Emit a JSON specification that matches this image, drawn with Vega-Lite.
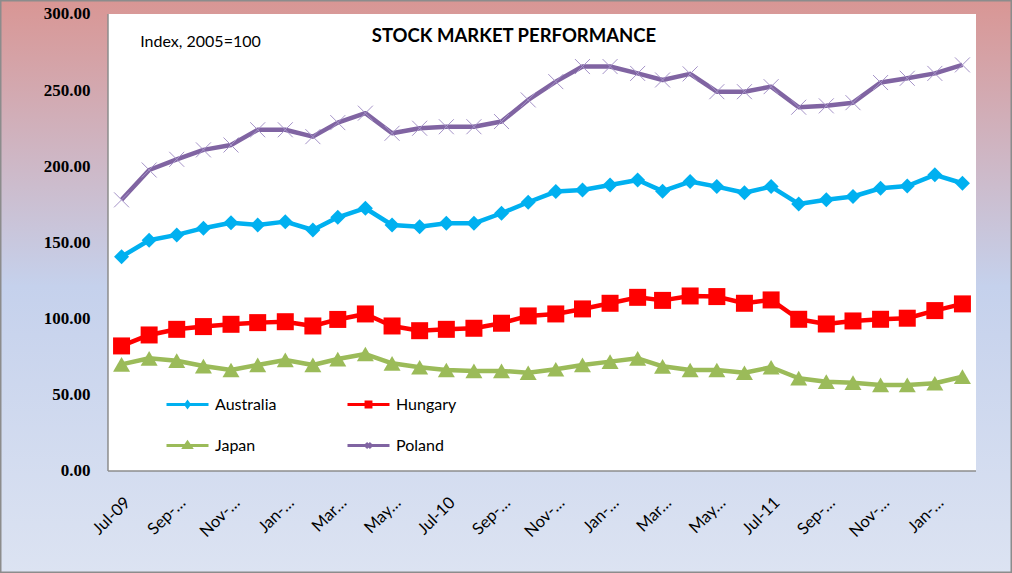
{
  "$schema": "https://vega.github.io/schema/vega-lite/v6.json",
  "width": 1012,
  "height": 573,
  "autosize": {"type": "none"},
  "padding": 0,
  "background": "#DCE3F2",
  "view": {
    "fill": {"gradient": "linear", "x1": 0, "y1": 0, "x2": 0, "y2": 1,
      "stops": [{"offset": 0, "color": "#D99694"}, {"offset": 0.5, "color": "#C5D1EC"}, {"offset": 1, "color": "#DCE3F2"}]},
    "stroke": "#8C8C8C",
    "strokeWidth": 3
  },
  "title": {"text": "STOCK MARKET PERFORMANCE", "offset": -45, "anchor": "middle", "dx": 8, "font": "Lato", "fontSize": 18.5, "fontWeight": "bold", "color": "#000000"},
  "data": {"values": [
    {"month": "2009-07-01", "Australia": 140.7, "Hungary": 82.1, "Japan": 70.0, "Poland": 178.0},
    {"month": "2009-08-01", "Australia": 151.5, "Hungary": 89.3, "Japan": 74.0, "Poland": 197.6},
    {"month": "2009-09-01", "Australia": 155.0, "Hungary": 93.0, "Japan": 72.4, "Poland": 204.6},
    {"month": "2009-10-01", "Australia": 159.4, "Hungary": 94.8, "Japan": 68.9, "Poland": 210.8},
    {"month": "2009-11-01", "Australia": 163.0, "Hungary": 96.3, "Japan": 66.3, "Poland": 214.0},
    {"month": "2009-12-01", "Australia": 161.5, "Hungary": 97.4, "Japan": 69.6, "Poland": 224.0},
    {"month": "2010-01-01", "Australia": 163.7, "Hungary": 98.0, "Japan": 72.9, "Poland": 224.0},
    {"month": "2010-02-01", "Australia": 158.2, "Hungary": 95.2, "Japan": 69.6, "Poland": 219.5},
    {"month": "2010-03-01", "Australia": 166.5, "Hungary": 99.5, "Japan": 73.5, "Poland": 228.7},
    {"month": "2010-04-01", "Australia": 172.5, "Hungary": 103.1, "Japan": 76.8, "Poland": 234.9},
    {"month": "2010-05-01", "Australia": 161.5, "Hungary": 95.2, "Japan": 70.7, "Poland": 221.7},
    {"month": "2010-06-01", "Australia": 160.4, "Hungary": 92.1, "Japan": 68.1, "Poland": 225.0},
    {"month": "2010-07-01", "Australia": 162.6, "Hungary": 93.0, "Japan": 66.3, "Poland": 226.0},
    {"month": "2010-08-01", "Australia": 162.6, "Hungary": 93.7, "Japan": 65.7, "Poland": 226.0},
    {"month": "2010-09-01", "Australia": 169.2, "Hungary": 97.0, "Japan": 65.7, "Poland": 229.4},
    {"month": "2010-10-01", "Australia": 176.4, "Hungary": 101.8, "Japan": 64.5, "Poland": 243.6},
    {"month": "2010-11-01", "Australia": 183.4, "Hungary": 103.1, "Japan": 66.8, "Poland": 255.6},
    {"month": "2010-12-01", "Australia": 184.5, "Hungary": 106.4, "Japan": 69.6, "Poland": 265.5},
    {"month": "2011-01-01", "Australia": 187.8, "Hungary": 110.1, "Japan": 71.8, "Poland": 265.5},
    {"month": "2011-02-01", "Australia": 191.0, "Hungary": 114.0, "Japan": 74.0, "Poland": 261.0},
    {"month": "2011-03-01", "Australia": 183.7, "Hungary": 112.0, "Japan": 68.7, "Poland": 256.7},
    {"month": "2011-04-01", "Australia": 190.0, "Hungary": 114.9, "Japan": 66.3, "Poland": 260.7},
    {"month": "2011-05-01", "Australia": 186.7, "Hungary": 114.5, "Japan": 66.3, "Poland": 249.0},
    {"month": "2011-06-01", "Australia": 182.7, "Hungary": 110.1, "Japan": 64.5, "Poland": 249.0},
    {"month": "2011-07-01", "Australia": 186.7, "Hungary": 112.3, "Japan": 68.1, "Poland": 252.3},
    {"month": "2011-08-01", "Australia": 175.3, "Hungary": 99.6, "Japan": 60.9, "Poland": 238.8},
    {"month": "2011-09-01", "Australia": 178.0, "Hungary": 96.5, "Japan": 58.6, "Poland": 239.7},
    {"month": "2011-10-01", "Australia": 180.2, "Hungary": 98.5, "Japan": 58.0, "Poland": 241.8},
    {"month": "2011-11-01", "Australia": 185.6, "Hungary": 99.6, "Japan": 56.5, "Poland": 255.0},
    {"month": "2011-12-01", "Australia": 187.1, "Hungary": 100.3, "Japan": 56.5, "Poland": 257.8},
    {"month": "2012-01-01", "Australia": 194.4, "Hungary": 105.3, "Japan": 57.6, "Poland": 261.0},
    {"month": "2012-02-01", "Australia": 188.9, "Hungary": 109.7, "Japan": 61.9, "Poland": 266.6}
  ]},
  "transform": [{"fold": ["Australia", "Hungary", "Japan", "Poland"], "as": ["country", "index"]}],
  "layer": [
    {
      "data": {"values": [{}]},
      "mark": {"type": "rect", "fill": "#FFFFFF", "stroke": null},
      "encoding": {
        "x": {"datum": {"year": 2009, "month": 6, "date": 15, "hours": 18, "utc": true}, "type": "temporal"},
        "x2": {"datum": {"year": 2012, "month": 2, "date": 16, "hours": 6, "utc": true}},
        "y": {"datum": 300, "type": "quantitative"},
        "y2": {"datum": 0}
      }
    },
    {
      "data": {"values": [{}]},
      "mark": {"type": "rule", "color": "#8C8C8C", "strokeWidth": 1.5},
      "encoding": {
        "x": {"datum": {"year": 2009, "month": 6, "date": 15, "hours": 18, "utc": true}, "type": "temporal"},
        "y": {"datum": 300, "type": "quantitative"},
        "y2": {"datum": 0}
      }
    },
    {
      "data": {"values": [{}]},
      "mark": {"type": "rule", "color": "#8C8C8C", "strokeWidth": 1.5},
      "encoding": {
        "x": {"datum": {"year": 2009, "month": 6, "date": 15, "hours": 18, "utc": true}, "type": "temporal"},
        "x2": {"datum": {"year": 2012, "month": 2, "date": 16, "hours": 6, "utc": true}},
        "y": {"datum": 0, "type": "quantitative"}
      }
    },
    {
      "mark": {"type": "line", "strokeWidth": 4.5, "strokeJoin": "round"},
      "encoding": {
        "x": {
          "field": "month", "type": "temporal",
          "scale": {"type": "utc", "domain": [{"year": 2009, "month": 2, "date": 14, "hours": 9, "minutes": 21, "utc": true}, {"year": 2012, "month": 3, "date": 27, "hours": 17, "utc": true}], "nice": false},
          "axis": {
            "offset": -102, "domain": false, "ticks": false, "grid": false, "title": null,
            "values": [
              {"year": 2009, "month": 7, "date": 1, "utc": true},
              {"year": 2009, "month": 9, "date": 1, "utc": true},
              {"year": 2009, "month": 11, "date": 1, "utc": true},
              {"year": 2010, "month": 1, "date": 1, "utc": true},
              {"year": 2010, "month": 3, "date": 1, "utc": true},
              {"year": 2010, "month": 5, "date": 1, "utc": true},
              {"year": 2010, "month": 7, "date": 1, "utc": true},
              {"year": 2010, "month": 9, "date": 1, "utc": true},
              {"year": 2010, "month": 11, "date": 1, "utc": true},
              {"year": 2011, "month": 1, "date": 1, "utc": true},
              {"year": 2011, "month": 3, "date": 1, "utc": true},
              {"year": 2011, "month": 5, "date": 1, "utc": true},
              {"year": 2011, "month": 7, "date": 1, "utc": true},
              {"year": 2011, "month": 9, "date": 1, "utc": true},
              {"year": 2011, "month": 11, "date": 1, "utc": true},
              {"year": 2012, "month": 1, "date": 1, "utc": true}
            ],
            "labelExpr": "utcFormat(datum.value, '%b') == 'Jul' ? utcFormat(datum.value, '%b-%y') : ((utcFormat(datum.value, '%b') == 'Mar' || utcFormat(datum.value, '%b') == 'May') ? utcFormat(datum.value, '%b') + '…' : utcFormat(datum.value, '%b') + '-…')",
            "labelAngle": -45, "labelAlign": "right", "labelBaseline": "top",
            "labelPadding": 23, "labelFont": "Lato", "labelFontSize": 16.5, "labelColor": "#000000",
            "labelOverlap": false, "labelFlush": false, "labelBound": false
          }
        },
        "y": {
          "field": "index", "type": "quantitative",
          "scale": {"domain": [-66.96, 309.19], "nice": false, "zero": false},
          "axis": {
            "offset": -108, "domain": false, "ticks": false, "grid": false, "title": null,
            "values": [0, 50, 100, 150, 200, 250, 300], "format": ".2f",
            "labelPadding": 18, "labelFont": "Liberation Serif", "labelFontSize": 17, "labelFontWeight": "bold", "labelColor": "#000000",
            "labelOverlap": false, "labelFlush": false, "labelBound": false
          }
        },
        "color": {
          "field": "country", "type": "nominal",
          "scale": {"domain": ["Australia", "Hungary", "Japan", "Poland"], "range": ["#00B0F0", "#FF0000", "#9BBB59", "#8064A2"]},
          "legend": {
            "orient": "none", "legendX": 179, "legendY": 396, "columns": 2, "direction": "horizontal", "title": null,
            "symbolSize": 196, "labelOffset": 19, "labelFont": "Lato", "labelFontSize": 16, "labelColor": "#000000",
            "columnPadding": 64, "rowPadding": 23, "padding": 0,
            "encode": {
              "symbols": {
                "update": {
                  "shape": {"signal": "datum.value === 'Australia' ? 'M-3,0L3,0M-0.25,0L0,-0.35L0.25,0L0,0.35Z' : datum.value === 'Hungary' ? 'M-3,0L3,0M-0.35,-0.35L0.35,-0.35L0.35,0.35L-0.35,0.35Z' : datum.value === 'Japan' ? 'M-3,0L3,0M0,-0.45L0.5,0.3L-0.5,0.3Z' : 'M-3,0L3,0M-0.35,-0.35L0.35,0.35M-0.35,0.35L0.35,-0.35'"},
                  "stroke": {"scale": "color", "field": "value"},
                  "fill": {"scale": "color", "field": "value"},
                  "strokeWidth": {"value": 3},
                  "opacity": {"value": 1}
                }
              }
            }
          }
        }
      }
    },
    {
      "transform": [{"filter": {"field": "country", "equal": "Australia"}}],
      "mark": {"type": "point", "shape": "diamond", "size": 225, "filled": true, "opacity": 1, "color": "#00B0F0"},
      "encoding": {
        "x": {"field": "month", "type": "temporal"},
        "y": {"field": "index", "type": "quantitative"}
      }
    },
    {
      "transform": [{"filter": {"field": "country", "equal": "Hungary"}}],
      "mark": {"type": "point", "shape": "square", "size": 289, "filled": true, "opacity": 1, "color": "#FF0000"},
      "encoding": {
        "x": {"field": "month", "type": "temporal"},
        "y": {"field": "index", "type": "quantitative"}
      }
    },
    {
      "transform": [{"filter": {"field": "country", "equal": "Japan"}}],
      "mark": {"type": "point", "shape": "triangle-up", "size": 289, "filled": true, "opacity": 1, "color": "#9BBB59"},
      "encoding": {
        "x": {"field": "month", "type": "temporal"},
        "y": {"field": "index", "type": "quantitative"}
      }
    },
    {
      "transform": [{"filter": {"field": "country", "equal": "Poland"}}],
      "mark": {"type": "point", "shape": "M-1,-1L1,1M-1,1L1,-1", "size": 225, "filled": false, "opacity": 1, "stroke": "#A593C8", "strokeWidth": 1},
      "encoding": {
        "x": {"field": "month", "type": "temporal"},
        "y": {"field": "index", "type": "quantitative"}
      }
    },
    {
      "data": {"values": [{}]},
      "mark": {"type": "text", "align": "left", "baseline": "middle", "font": "Lato", "fontSize": 16, "color": "#000000"},
      "encoding": {
        "x": {"datum": {"year": 2009, "month": 7, "date": 22, "utc": true}, "type": "temporal"},
        "y": {"datum": 281.6, "type": "quantitative"},
        "text": {"value": "Index, 2005=100"}
      }
    }
  ]
}
